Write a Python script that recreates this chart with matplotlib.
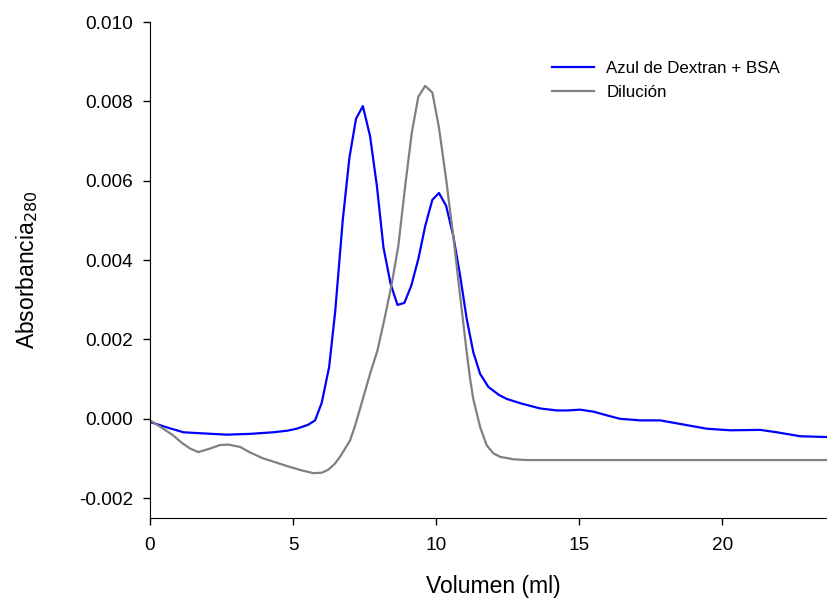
import matplotlib
matplotlib.use('Agg')
import matplotlib.pyplot as plt

plt.rcParams['font.family'] = ['Liberation Sans', 'DejaVu Sans']

# Azul de Dextran + BSA
vol_azul = [0.0, 0.6, 1.17, 1.9, 2.68, 3.5, 4.31, 4.8, 5.13, 5.53, 5.77, 6.0, 6.26, 6.47,
            6.74, 6.97, 7.2, 7.44, 7.69, 7.93, 8.16, 8.41, 8.65, 8.89, 9.13, 9.38,
            9.62, 9.87, 10.1, 10.35, 10.6, 10.84, 11.07, 11.3, 11.54, 11.83, 12.2,
            12.47, 13.0, 13.64, 14.22, 14.6, 15.03, 15.5, 16.0, 16.43, 17.13, 17.83,
            18.53, 19.46, 20.28, 21.33, 21.91, 22.73, 23.66]
abs_azul = [-0.00008, -0.00022, -0.00034, -0.00037, -0.0004, -0.00038, -0.00034, -0.0003,
            -0.00025, -0.00015, -0.00004, 0.0004, 0.0013, 0.00268,
            0.00503, 0.00658, 0.00756, 0.00788, 0.00713, 0.00587, 0.00432, 0.0034,
            0.00287, 0.00292, 0.00335, 0.00403, 0.00486, 0.00552, 0.00569, 0.00537,
            0.00461, 0.00361, 0.00252, 0.00168, 0.00113, 0.0008, 0.0006,
            0.0005, 0.00038, 0.00026, 0.00021, 0.00021, 0.00023, 0.00018, 0.00008,
            0.0, -0.00004, -0.00004, -0.00013, -0.00025, -0.00029, -0.00028, -0.00034,
            -0.00044, -0.00046]

# Dilución
vol_dil = [0.0, 0.4, 0.81, 1.1, 1.4, 1.69, 2.1, 2.45, 2.74, 3.15, 3.5, 3.96, 4.4, 4.78,
           5.3, 5.71, 6.0, 6.24, 6.45, 6.64, 6.99, 7.17, 7.44, 7.69, 7.95, 8.22,
           8.45, 8.68, 8.92, 9.15, 9.38, 9.62, 9.87, 10.1, 10.35, 10.6, 10.84, 11.07,
           11.19, 11.3, 11.54, 11.77, 12.0, 12.24, 12.7, 13.17, 14.0, 16.0, 18.0,
           20.0, 22.0, 23.7]
abs_dil = [-0.00004, -0.00022, -0.00042, -0.0006, -0.00075, -0.00084, -0.00075, -0.00066,
           -0.00065, -0.00071, -0.00085, -0.001, -0.0011, -0.00119,
           -0.0013, -0.00137, -0.00136, -0.00128, -0.00114, -0.00096, -0.00055, -0.00017,
           0.0005, 0.00113, 0.00172, 0.0026, 0.0034, 0.00436, 0.00587, 0.00721,
           0.00812, 0.00839, 0.00822, 0.00734, 0.00604, 0.00461, 0.0031, 0.00168,
           0.001, 0.0005, -0.00021, -0.00067, -0.00087, -0.00096, -0.00102, -0.00104,
           -0.00104, -0.00104, -0.00104, -0.00104, -0.00104, -0.00104]

fig = plt.figure(figsize=(8.28, 6.03), dpi=100)
ax = fig.add_axes([0.1812, 0.141, 0.8188, 0.8225])

ax.plot(vol_azul, abs_azul, color='#0000ff', lw=1.6, label='Azul de Dextran + BSA')
ax.plot(vol_dil, abs_dil, color='#808080', lw=1.6, label='Dilución')

ax.set_xlim(0, 23.7)
ax.set_ylim(-0.0025, 0.010)
ax.set_xticks([0, 5, 10, 15, 20])
ax.set_yticks([-0.002, 0.0, 0.002, 0.004, 0.006, 0.008, 0.010])
ax.set_yticklabels(['-0.002', '0.000', '0.002', '0.004', '0.006', '0.008', '0.010'])
ax.tick_params(direction='out', length=5, width=1, labelsize=13.7)
ax.tick_params(axis='x', pad=9)
ax.tick_params(axis='y', pad=7)

for side in ['top', 'right']:
    ax.spines[side].set_visible(False)

ax.set_xlabel('Volumen (ml)', fontsize=16.5)
ax.set_ylabel('Absorbancia$_{280}$', fontsize=16.5)
ax.xaxis.set_label_coords(0.507, -0.115)
ax.yaxis.set_label_coords(-0.163, 0.5)

ax.legend(loc='upper left', bbox_to_anchor=(0.593, 0.921), frameon=False,
          fontsize=12.2, handlelength=2.5, handletextpad=0.7, labelspacing=0.5,
          borderpad=0, borderaxespad=0)

fig.savefig('out.png', dpi=100)
